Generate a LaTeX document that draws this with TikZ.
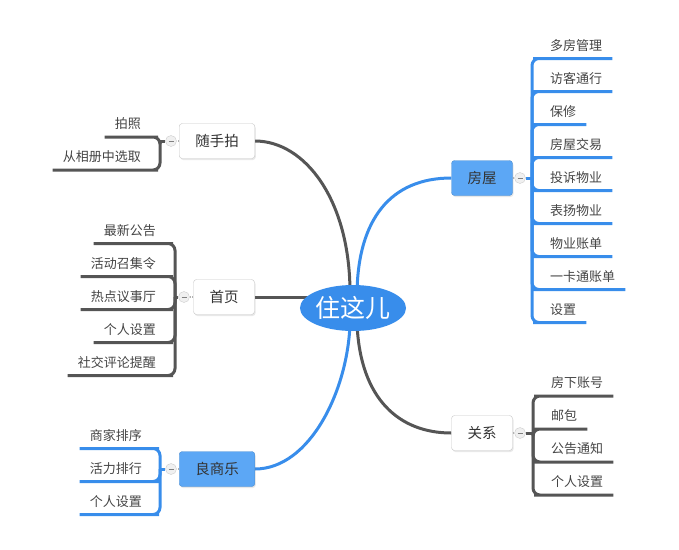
\documentclass[tikz,border=0pt]{standalone}
\usepackage{fontspec}
\setmainfont{Noto Sans CJK SC}
\usetikzlibrary{shapes.geometric,shadows,backgrounds,calc}

\definecolor{rootblue}{RGB}{56,141,235}
\definecolor{boxblue}{RGB}{92,167,245}
\definecolor{linegray}{RGB}{85,85,85}
\definecolor{textgray}{RGB}{68,68,68}

\tikzset{
	topic/.style={draw=gray!45, fill=white, rounded corners=3pt, minimum height=35pt, inner xsep=16pt, text=black!80, font=\fontsize{14.5}{14.5}\selectfont, drop shadow={opacity=0.18, shadow xshift=1pt, shadow yshift=-1.5pt}},
	bluetopic/.style={topic, fill=boxblue, draw=boxblue!85!black},
	leaf/.style={inner xsep=10pt, inner ysep=6pt, text height=10pt, text depth=2pt, text=textgray, font=\fontsize{13}{13}\selectfont},
	fold/.style={circle, draw=gray!40, fill=gray!12, minimum size=11pt, inner sep=0pt, path picture={\draw[gray, line width=1pt] ([xshift=-2.5pt]path picture bounding box.center) -- ([xshift=2.5pt]path picture bounding box.center);}},
	foldlink/.style={gray!60, dotted, line width=1.2pt},
	bluebranch/.style={rootblue, line width=3pt},
	graybranch/.style={linegray, line width=3pt},
	bluetwig/.style={rootblue, line width=3pt, rounded corners=7pt},
	graytwig/.style={linegray, line width=3pt, rounded corners=7pt}
}

\begin{document}
\begin{tikzpicture}[x=1pt, y=-1pt]
	
	\useasboundingbox (0,0) rectangle (679,549);
	
	% Centre
	\node[ellipse, fill=rootblue, minimum width=104pt, minimum height=46pt, inner sep=0pt, text=white, font=\fontsize{25}{25}\selectfont] (root) at (353,308) {住这儿};
	
	% Topics
	\node[topic]		(ssp) at (217,141) {随手拍};
	\node[topic]		(sy)  at (224,297) {首页};
	\node[bluetopic]	(lsl) at (217,469) {良商乐};
	\node[bluetopic]	(fw)  at (482,178) {房屋};
	\node[topic]		(gx)  at (482,433) {关系};
	
	% Fold buttons
	\node[fold] (sspdot) at (171,141) {};
	\node[fold] (sydot)  at (184,297) {};
	\node[fold] (lsldot) at (171,469) {};
	\node[fold] (fwdot)  at (520,178) {};
	\node[fold] (gxdot)  at (520,433) {};
	\draw[foldlink] (ssp.west) -- (sspdot.east);
	\draw[foldlink] (sy.west) -- (sydot.east);
	\draw[foldlink] (lsl.west) -- (lsldot.east);
	\draw[foldlink] (fw.east) -- (fwdot.west);
	\draw[foldlink] (gx.east) -- (gxdot.west);
	
	% Branches
	\begin{scope}[on background layer]
		\draw[graybranch] (ssp.east) .. controls (305,141) and (350,200) .. ($(root.north)+(-3,8)$);
		\draw[bluebranch] ($(root.north)+(4,8)$) .. controls (358,220) and (390,178) .. (fw.west);
		\draw[graybranch] (sy.east) -- (sy.east -| root.center);
		\draw[bluebranch] (lsl.east) .. controls (310,469) and (348,390) .. ($(root.south)+(-3,-8)$);
		\draw[graybranch] ($(root.south)+(4,-8)$) .. controls (360,400) and (400,433) .. (gx.west);
	\end{scope}
	
	% Hubs
	\coordinate (ssphub) at (160,141);
	\coordinate (syhub)  at (175,297);
	\coordinate (lslhub) at (160,469);
	\coordinate (fwhub)  at (532,178);
	\coordinate (gxhub)  at (533,433);
	\draw[graytwig] (sspdot.west) -- (ssphub);
	\draw[graytwig] (sydot.west) -- (syhub);
	\draw[bluetwig] (lsldot.west) -- (lslhub);
	\draw[bluetwig] (fwdot.east) -- (fwhub);
	\draw[graytwig] (gxdot.east) -- (gxhub);
	
	% Leaves
	\foreach \t [count=\i] in {拍照,从相册中选取}{
		\node[leaf, anchor=south east] (ssp\i) at (151,{141+(\i-1.5)*33+12.5}) {\t};
		\draw[graytwig] (ssphub) |- (ssp\i.south east) -- (ssp\i.south west);
	}
	\foreach \t [count=\i] in {最新公告,活动召集令,热点议事厅,个人设置,社交评论提醒}{
		\node[leaf, anchor=south east] (sy\i) at (166,{297+(\i-3)*33+12.5}) {\t};
		\draw[graytwig] (syhub) |- (sy\i.south east) -- (sy\i.south west);
	}
	\foreach \t [count=\i] in {商家排序,活力排行,个人设置}{
		\node[leaf, anchor=south east] (lsl\i) at (152,{469+(\i-2)*33+12.5}) {\t};
		\draw[bluetwig] (lslhub) |- (lsl\i.south east) -- (lsl\i.south west);
	}
	\foreach \t [count=\i] in {多房管理,访客通行,保修,房屋交易,投诉物业,表扬物业,物业账单,一卡通账单,设置}{
		\node[leaf, anchor=south west] (fw\i) at (540,{178+(\i-5)*33+12.5}) {\t};
		\draw[bluetwig] (fwhub) |- (fw\i.south west) -- (fw\i.south east);
	}
	\foreach \t [count=\i] in {房下账号,邮包,公告通知,个人设置}{
		\node[leaf, anchor=south west] (gx\i) at (541,{433+(\i-2.5)*33+12.5}) {\t};
		\draw[graytwig] (gxhub) |- (gx\i.south west) -- (gx\i.south east);
	}
	
\end{tikzpicture}
\end{document}
